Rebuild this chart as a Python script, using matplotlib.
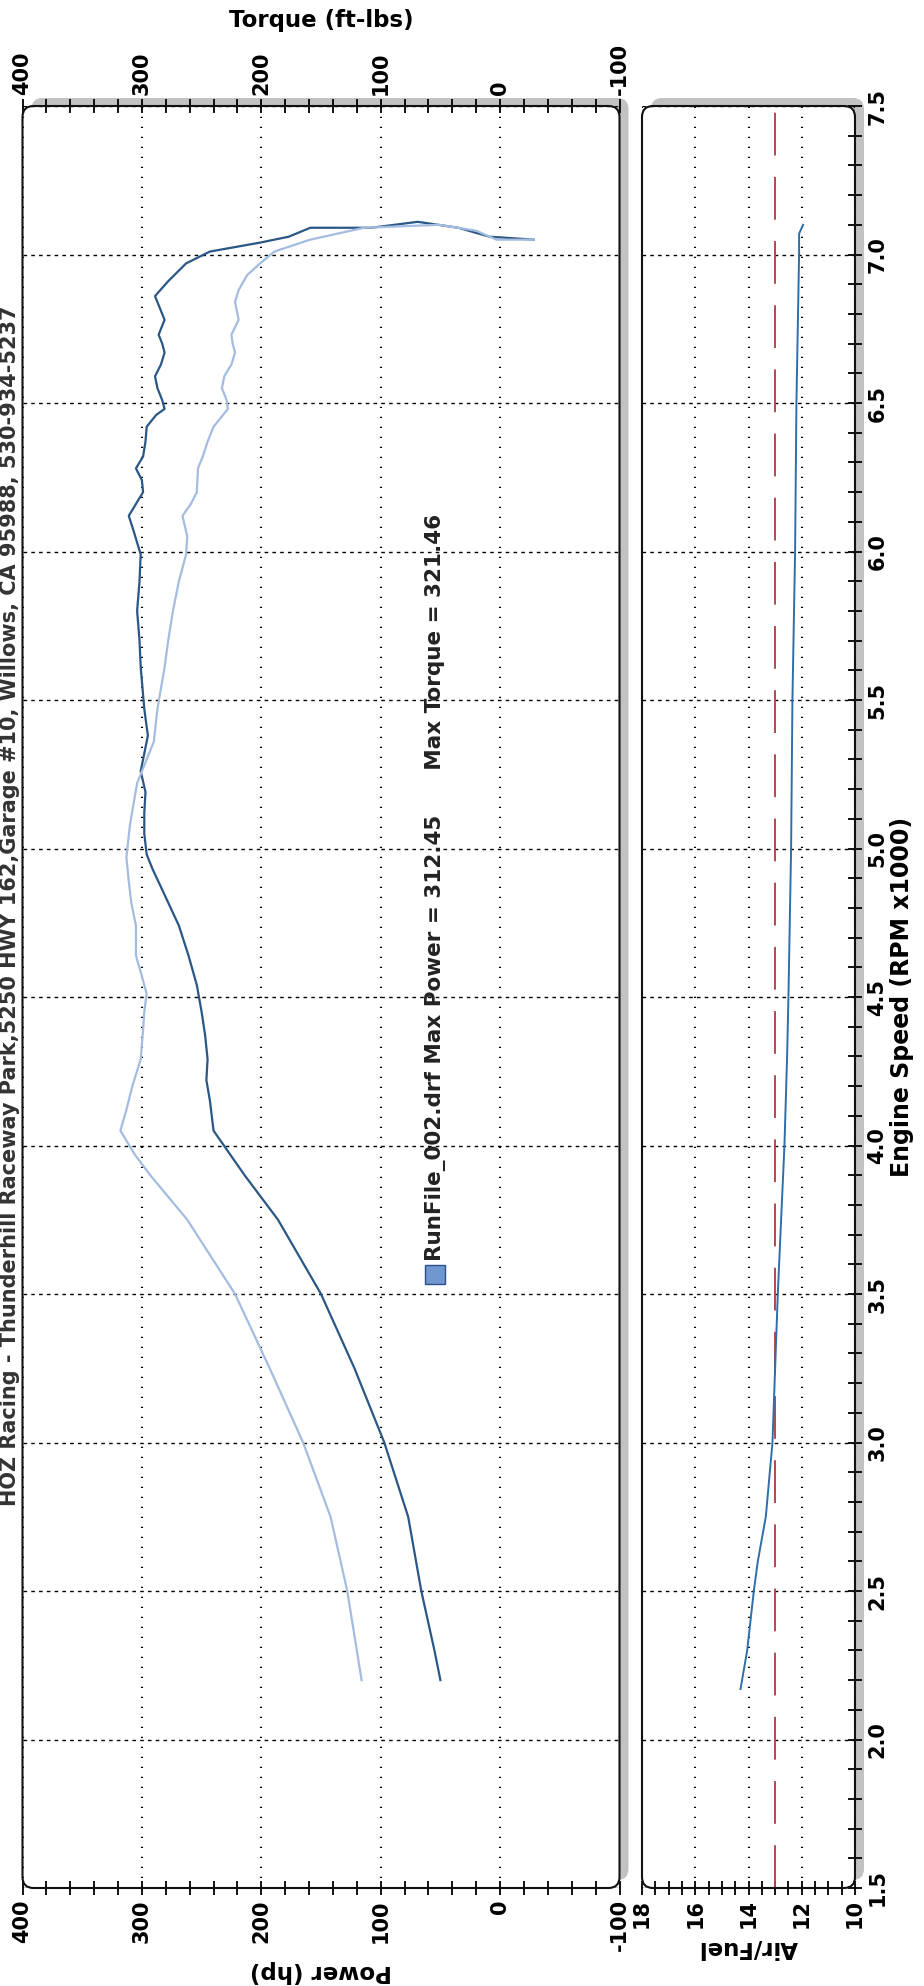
import matplotlib
matplotlib.use("Agg")
import matplotlib.pyplot as plt
from matplotlib.patches import FancyBboxPatch, Rectangle
from matplotlib.transforms import IdentityTransform
from matplotlib.ticker import MultipleLocator, FormatStrFormatter

# size of the page in pixels
W, H = 924, 1986
DPI = 100

# dyno run, rpm in x1000 (points in drawing order, the end of the pull folds back)
power_rpm = [2.20, 2.30, 2.50, 2.75, 3.00, 3.25, 3.50, 3.75, 3.90, 4.05, 4.15, 4.22,
             4.29, 4.37, 4.45, 4.54, 4.64, 4.74, 4.87, 4.93, 4.98, 5.05, 5.12, 5.19,
             5.26, 5.32, 5.38, 5.47, 5.61, 5.70, 5.80, 5.90, 5.99, 6.07, 6.12, 6.16,
             6.20, 6.24, 6.28, 6.32, 6.37, 6.42, 6.46, 6.48, 6.51, 6.55, 6.59, 6.63,
             6.67, 6.70, 6.73, 6.76, 6.78, 6.82, 6.86, 6.91, 6.97, 7.01, 7.04, 7.06,
             7.09, 7.09, 7.11, 7.09, 7.06, 7.05]
power_hp = [50, 55, 66, 77, 97, 122, 150, 186, 214, 240, 243, 246,
            245, 247, 250, 254, 261, 269, 284, 291, 296, 298, 298, 297,
            301, 298, 295, 298, 301, 302, 304, 302, 301, 307, 311, 305,
            299, 300, 305, 299, 297, 296, 288, 281, 283, 287, 289, 284,
            281, 283, 286, 283, 281, 285, 289, 278, 263, 243, 201, 177,
            159, 108, 69, 35, 9, -28]

torque_rpm = [2.20, 2.30, 2.50, 2.75, 3.00, 3.25, 3.50, 3.75, 3.90, 3.97, 4.05, 4.12,
              4.20, 4.29, 4.39, 4.45, 4.51, 4.57, 4.64, 4.74, 4.82, 4.89, 4.97, 5.08,
              5.15, 5.22, 5.28, 5.36, 5.47, 5.61, 5.70, 5.80, 5.90, 5.99, 6.05, 6.12,
              6.16, 6.20, 6.28, 6.32, 6.37, 6.42, 6.48, 6.51, 6.55, 6.59, 6.63, 6.67,
              6.70, 6.73, 6.78, 6.84, 6.88, 6.93, 6.97, 7.01, 7.05, 7.09, 7.10, 7.08,
              7.05, 7.05]
torque_ftlb = [116, 120, 128, 142, 165, 193, 222, 262, 293, 306, 318, 313,
               308, 301, 299, 298, 296, 300, 305, 305, 309, 311, 313, 310,
               307, 304, 298, 290, 287, 281, 278, 274, 269, 263, 262, 266,
               259, 254, 253, 249, 245, 240, 228, 229, 233, 231, 225, 222,
               224, 225, 219, 222, 219, 212, 201, 189, 159, 114, 51, 20,
               3, -28]

afr_rpm = [2.17, 2.30, 2.50, 2.60, 2.70, 2.75, 3.00, 3.50, 4.00, 4.30, 4.50,
           5.00, 5.50, 6.00, 6.50, 7.00, 7.07, 7.10]
afr_val = [14.3, 14.05, 13.8, 13.65, 13.45, 13.35, 13.1, 12.9, 12.65, 12.55, 12.5,
           12.4, 12.35, 12.25, 12.2, 12.1, 12.1, 11.95]
afr_target = 13.0

header = "HOZ Racing - Thunderhill Raceway Park,5250 HWY 162,Garage #10, Willows, CA 95988, 530-934-5237"
legend_text = "RunFile_002.drf Max Power = 312.45      Max Torque = 321.46"

DARK = "#2a5785"
LIGHT = "#a3bcdf"
AFR_BLUE = "#2f6ea8"
RED = "#b5474b"

plt.rcParams['font.family'] = ['DejaVu Sans']
plt.rcParams['font.weight'] = 'bold'
plt.rcParams['axes.labelweight'] = 'bold'
plt.rcParams['axes.unicode_minus'] = False

fig = plt.figure(figsize=(W / DPI, H / DPI), dpi=DPI)
fig.patch.set_facecolor("white")

# axes boxes in pixels: left, top, right, bottom
top_px, bot_px = 106, 1888
ax = fig.add_axes([22.5 / W, (H - bot_px) / H, 597 / W, (bot_px - top_px) / H])
ax2 = fig.add_axes([642 / W, (H - bot_px) / H, 213 / W, (bot_px - top_px) / H])
ax_t = ax.twiny()

dotted = (0, (0.6, 4.2))
dashed = (0, (2.6, 3.0))


def framed(a):
    # rounded frame with grey drop shadow up and right
    bb = a.get_position()
    x0, y0, w, h = bb.x0 * W, bb.y0 * H, bb.width * W, bb.height * H
    style = "round,pad=0,rounding_size=11"
    shadow = FancyBboxPatch((x0 + 9, y0 + 8), w, h, boxstyle=style, transform=IdentityTransform(),
                            fc="#c2c2c2", ec="none", zorder=-3)
    fill = FancyBboxPatch((x0, y0), w, h, boxstyle=style, transform=IdentityTransform(),
                          fc="white", ec="none", zorder=-2)
    border = FancyBboxPatch((x0, y0), w, h, boxstyle=style, transform=IdentityTransform(),
                            fc="none", ec="#111111", lw=1.5, zorder=5)
    for p in (shadow, fill, border):
        fig.add_artist(p)
    a.set_facecolor("none")
    for s in a.spines.values():
        s.set_visible(False)


framed(ax)
framed(ax2)
for s in ax_t.spines.values():
    s.set_visible(False)

# ---- main panel: power (bottom) and torque (top) against rpm
ax.set_xlim(400, -100)
ax.set_ylim(1.5, 7.5)
ax_t.set_xlim(400, -100)

ax.plot(power_hp, power_rpm, color=DARK, lw=1.6, zorder=3)
ax_t.plot(torque_ftlb, torque_rpm, color=LIGHT, lw=1.6, zorder=2)

for a in (ax, ax_t):
    a.xaxis.set_major_locator(MultipleLocator(100))
    a.xaxis.set_minor_locator(MultipleLocator(20))
    a.tick_params(axis='x', which='both', direction='inout', length=10, width=1.3,
                  labelsize=15, labelrotation=90, pad=3)
ax.yaxis.set_major_locator(MultipleLocator(0.5))
ax.tick_params(axis='y', left=False, right=False, labelleft=False)
ax.xaxis.grid(True, linestyle=dotted, color='black', lw=1.5)
ax.yaxis.grid(True, linestyle=dashed, color='black', lw=1.0)

ax.set_xlabel("Power (hp)", fontsize=16.5, rotation=180, labelpad=6)
ax_t.set_xlabel("Torque (ft-lbs)", fontsize=16.5, labelpad=11)

# legend marker and run summary
ax.add_patch(Rectangle((0.674, 0.339), 20 / 597, 19 / 1782, transform=ax.transAxes,
                       fc="#7096cf", ec="#2b4f86", lw=1.0, zorder=4))
ax.text(0.691, 0.352, legend_text, transform=ax.transAxes, rotation=90,
        ha='center', va='bottom', fontsize=15.5, fontweight='bold', color='#222222')

# ---- lower panel: air/fuel against rpm
ax2.set_xlim(18, 10)
ax2.set_ylim(1.5, 7.5)
ax2.axvline(afr_target, color=RED, lw=1.4, linestyle=(0, (22, 11)), zorder=2)
ax2.plot(afr_val, afr_rpm, color=AFR_BLUE, lw=1.4, zorder=3)

ax2.xaxis.set_major_locator(MultipleLocator(2))
ax2.xaxis.set_minor_locator(MultipleLocator(0.5))
ax2.yaxis.set_major_locator(MultipleLocator(0.5))
ax2.yaxis.set_minor_locator(MultipleLocator(0.1))
ax2.yaxis.set_major_formatter(FormatStrFormatter('%.1f'))
ax2.yaxis.tick_right()
ax2.tick_params(axis='x', which='both', direction='inout', length=10, width=1.3,
                labelsize=15, labelrotation=90, pad=3)
ax2.tick_params(axis='y', which='both', direction='inout', length=10, width=1.3,
                labelsize=15, labelrotation=90, pad=4, left=False, right=True)
for lbl in ax2.get_yticklabels():
    lbl.set_verticalalignment('center')
ax2.xaxis.grid(True, linestyle=dotted, color='black', lw=1.5)
ax2.yaxis.grid(True, linestyle=dashed, color='black', lw=1.0)

ax2.set_xlabel("Air/Fuel", fontsize=16.5, rotation=180, labelpad=6)
ax2.yaxis.set_label_position('right')
ax2.set_ylabel("Engine Speed (RPM x1000)", fontsize=17, rotation=90, labelpad=2)

# page header along the left edge of the page
fig.text(20 / W, (H - 906) / H, header, rotation=90, ha='right', va='center',
         fontsize=15, color='#333333')

fig.savefig("out.png", dpi=DPI, facecolor="white")
